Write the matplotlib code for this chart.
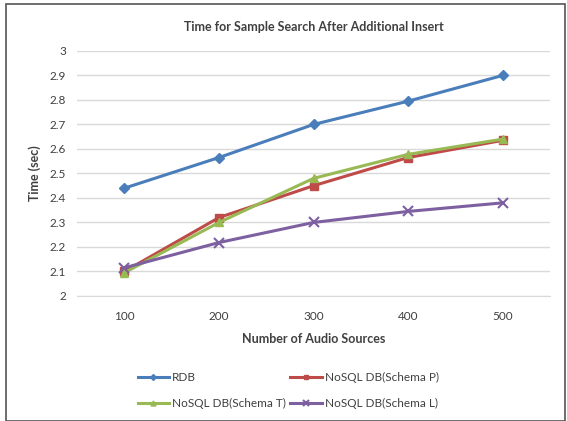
import matplotlib
matplotlib.use("Agg")
import matplotlib.pyplot as plt
from matplotlib.patches import Rectangle

plt.rcParams['font.family'] = ['Lato', 'DejaVu Sans']

categories = ["100", "200", "300", "400", "500"]
rdb = [2.44, 2.565, 2.70, 2.795, 2.90]
schema_p = [2.10, 2.32, 2.45, 2.565, 2.635]
schema_t = [2.095, 2.30, 2.48, 2.578, 2.64]
schema_l = [2.115, 2.218, 2.30, 2.345, 2.38]
yticks = [2, 2.1, 2.2, 2.3, 2.4, 2.5, 2.6, 2.7, 2.8, 2.9, 3]
ytick_labels = ["2", "2.1", "2.2", "2.3", "2.4", "2.5", "2.6", "2.7", "2.8", "2.9", "3"]

fig = plt.figure(figsize=(5.67, 4.21), dpi=100)
ax = fig.add_axes([0.136, 0.297, 0.834, 0.582])

x = list(range(len(categories)))
h_rdb, = ax.plot(x, rdb, color='#4A7EBB', lw=2.2, marker='D', ms=5, label='RDB')
h_p, = ax.plot(x, schema_p, color='#BE4B48', lw=2.2, marker='s', ms=6, label='NoSQL DB(Schema P)')
h_t, = ax.plot(x, schema_t, color='#98B954', lw=2.2, marker='^', ms=6, label='NoSQL DB(Schema T)')
h_l, = ax.plot(x, schema_l, color='#7D60A0', lw=2.2, marker='x', ms=7, mew=1.5, label='NoSQL DB(Schema L)')

ax.set_xlim(-0.5, 4.5)
ax.set_ylim(2, 3)
ax.set_xticks(x)
ax.set_xticklabels(categories)
ax.set_yticks(yticks)
ax.set_yticklabels(ytick_labels)
ax.grid(axis='y', color='#D9D9D9', lw=1)
ax.set_axisbelow(True)
for s in ['top', 'right', 'left']:
    ax.spines[s].set_visible(False)
ax.spines['bottom'].set_color('#D9D9D9')
ax.tick_params(axis='both', length=0, labelsize=8.5, colors='#404040', pad=8)
ax.tick_params(axis='x', pad=11)

ax.set_title('Time for Sample Search After Additional Insert', fontsize=9,
             fontweight='bold', color='#404040', pad=14)
ax.set_xlabel('Number of Audio Sources', fontsize=9, fontweight='bold', color='#404040', labelpad=8)
ax.set_ylabel('Time (sec)', fontsize=9, fontweight='bold', color='#404040', labelpad=6)

handles = [h_rdb, h_t, h_p, h_l]
fig.legend(handles, [h.get_label() for h in handles],
           loc='lower center', bbox_to_anchor=(0.508, 0.003), ncol=2, frameon=False,
           fontsize=8.5, handlelength=2.7, columnspacing=0.4, markerscale=0.6,
           labelcolor='#404040', handletextpad=0.2, labelspacing=1.3)

fig.patches.append(Rectangle((6/567, 0), 559/567, 1 - 4/421, transform=fig.transFigure,
                             fill=False, edgecolor='#555555', lw=1.2))

fig.savefig('out.png', dpi=100)
